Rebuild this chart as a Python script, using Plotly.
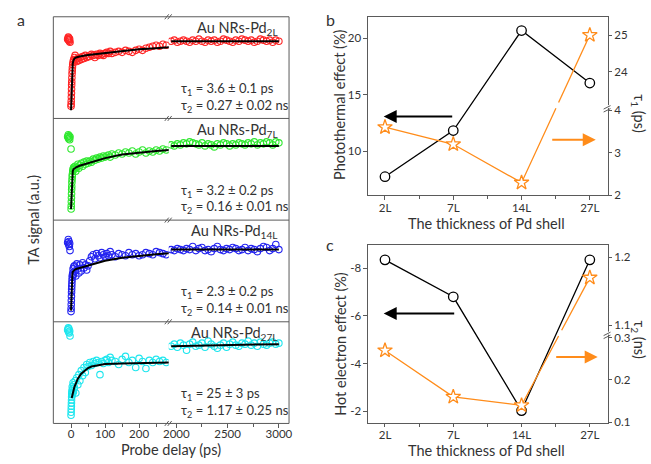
import plotly.graph_objects as go

W, H = 651, 464
def fx(px): return px / W
def fy(py): return 1 - py / H

# ---------------- Panel a data (TA signal, a.u., each row normalised 0..1) ----------------
delay_early = [-10, -8, -7, -6, -5, -4, -3,
               0, 0.3, 0.6, 0.9, 1.2, 1.5, 1.8, 2.1, 2.5, 3, 3.5, 4, 5, 6, 7, 8,
               10, 12, 14, 17, 20, 23, 26, 30, 34, 38, 42, 46, 50,
               55, 60, 65, 70, 75, 80, 85, 90, 95, 100,
               105, 110, 115, 120,
               130, 140, 150, 160, 170, 180, 190, 200, 210, 220, 230, 240, 250, 260, 270, 280]
delay_late = [1950, 1980, 2010, 2040, 2070, 2100, 2130, 2160, 2190, 2220, 2250, 2280,
              2310, 2340, 2370, 2400, 2430, 2460, 2490, 2520, 2550, 2580, 2610, 2640,
              2670, 2700, 2730, 2760, 2790, 2820, 2850, 2880, 2910, 2940, 2970, 3000]

sig_2L_early = [0.78, 0.80, 0.77, 0.79, 0.76, 0.78, 0.75,
                0.12, 0.14, 0.17, 0.21, 0.25, 0.29, 0.33, 0.36, 0.40, 0.44, 0.47, 0.50, 0.53, 0.55, 0.57, 0.58,
                0.60, 0.62, 0.58, 0.56, 0.59, 0.57, 0.60, 0.58, 0.61, 0.59, 0.62, 0.60, 0.61,
                0.61, 0.63, 0.62, 0.60, 0.63, 0.62, 0.64, 0.63, 0.62, 0.64,
                0.65, 0.64, 0.66, 0.64,
                0.65, 0.66, 0.65, 0.67, 0.66, 0.65, 0.67, 0.68, 0.67, 0.69, 0.70, 0.71, 0.72, 0.71, 0.73, 0.72]
sig_2L_late = [0.76, 0.77, 0.75, 0.76, 0.77, 0.76, 0.75, 0.77, 0.76, 0.78, 0.76, 0.75,
               0.77, 0.76, 0.77, 0.75, 0.76, 0.78, 0.77, 0.76, 0.75, 0.77, 0.76, 0.78,
               0.77, 0.76, 0.77, 0.75, 0.76, 0.78, 0.77, 0.76, 0.77, 0.75, 0.77, 0.76]

sig_7L_early = [0.82, 0.84, 0.80, 0.83, 0.81, 0.79, 0.82,
                0.70, 0.11, 0.14, 0.18, 0.22, 0.26, 0.30, 0.33, 0.37, 0.40, 0.43, 0.45, 0.48, 0.50, 0.51, 0.52,
                0.50, 0.53, 0.48, 0.52, 0.55, 0.51, 0.54, 0.56, 0.53, 0.57, 0.55, 0.58, 0.56,
                0.58, 0.57, 0.60, 0.59, 0.61, 0.60, 0.62, 0.61, 0.63, 0.62,
                0.63, 0.64, 0.62, 0.65,
                0.64, 0.66, 0.65, 0.67, 0.66, 0.68, 0.65, 0.67, 0.69, 0.66, 0.68, 0.67, 0.69, 0.68, 0.70, 0.69]
sig_7L_late = [0.74, 0.73, 0.75, 0.74, 0.76, 0.75, 0.77, 0.76, 0.75, 0.74, 0.76, 0.73,
               0.75, 0.74, 0.72, 0.75, 0.74, 0.76, 0.75, 0.73, 0.75, 0.74, 0.76, 0.75,
               0.74, 0.76, 0.75, 0.77, 0.74, 0.76, 0.75, 0.77, 0.76, 0.74, 0.77, 0.76]

sig_14L_early = [0.78, 0.81, 0.76, 0.79, 0.74, 0.77, 0.70,
                 0.10, 0.13, 0.17, 0.21, 0.25, 0.29, 0.32, 0.35, 0.38, 0.41, 0.44, 0.46, 0.48, 0.52, 0.46, 0.54,
                 0.55, 0.50, 0.45, 0.57, 0.52, 0.48, 0.56, 0.50, 0.58, 0.53, 0.56, 0.51, 0.55,
                 0.60, 0.64, 0.66, 0.62, 0.67, 0.65, 0.63, 0.68, 0.66, 0.64,
                 0.67, 0.65, 0.69, 0.66,
                 0.64, 0.67, 0.66, 0.65, 0.68, 0.66, 0.67, 0.65, 0.66, 0.68, 0.67, 0.66, 0.69, 0.68, 0.67, 0.66]
sig_14L_late = [0.71, 0.70, 0.72, 0.71, 0.70, 0.72, 0.71, 0.74, 0.70, 0.72, 0.73, 0.70,
                0.71, 0.69, 0.72, 0.74, 0.71, 0.70, 0.72, 0.71, 0.73, 0.72, 0.70, 0.71,
                0.73, 0.70, 0.72, 0.71, 0.69, 0.72, 0.74, 0.73, 0.70, 0.72, 0.76, 0.71]

sig_27L_early = [0.92, 0.94, 0.90, 0.93, 0.89, 0.91, 0.86,
                 0.08, 0.11, 0.14, 0.17, 0.20, 0.23, 0.26, 0.29, 0.32, 0.30, 0.36, 0.28, 0.34, 0.40, 0.31, 0.38,
                 0.35, 0.42, 0.30, 0.45, 0.38, 0.48, 0.42, 0.52, 0.47, 0.55, 0.50, 0.58, 0.56,
                 0.60, 0.57, 0.61, 0.59, 0.62, 0.60, 0.48, 0.61, 0.59, 0.62,
                 0.63, 0.60, 0.65, 0.62,
                 0.61, 0.58, 0.63, 0.66, 0.60, 0.62, 0.55, 0.64, 0.61, 0.54, 0.62, 0.60, 0.63, 0.61, 0.62, 0.60]
sig_27L_late = [0.76, 0.78, 0.75, 0.79, 0.77, 0.72, 0.78, 0.80, 0.76, 0.77, 0.79, 0.75,
                0.81, 0.78, 0.76, 0.74, 0.77, 0.79, 0.75, 0.78, 0.80, 0.77, 0.76, 0.79,
                0.78, 0.81, 0.77, 0.79, 0.76, 0.80, 0.78, 0.77, 0.79, 0.80, 0.78, 0.79]

# fitted curves
fit_t_fast = [0, 0.5, 1, 1.5, 2, 3, 4, 5, 7, 10, 15, 25, 50, 100, 150, 200, 250, 288]
fit_2L = [0.08, 0.15, 0.23, 0.30, 0.36, 0.44, 0.50, 0.54, 0.57, 0.59, 0.60, 0.61, 0.625, 0.645, 0.665, 0.68, 0.69, 0.70]
fit_7L = [0.11, 0.17, 0.24, 0.30, 0.35, 0.42, 0.46, 0.48, 0.50, 0.51, 0.52, 0.535, 0.56, 0.61, 0.645, 0.665, 0.68, 0.69]
fit_14L = [0.11, 0.18, 0.26, 0.33, 0.38, 0.44, 0.47, 0.49, 0.50, 0.51, 0.52, 0.53, 0.555, 0.60, 0.63, 0.65, 0.665, 0.675]
fit_t_slow = [2, 5, 10, 15, 20, 30, 40, 50, 60, 80, 100, 150, 200, 288]
fit_27L = [0.25, 0.30, 0.36, 0.40, 0.44, 0.49, 0.52, 0.545, 0.56, 0.575, 0.585, 0.59, 0.595, 0.60]
fit_late_t = [1950, 3000]
fit_late = {"2L": [0.76, 0.76], "7L": [0.73, 0.73], "14L": [0.71, 0.71], "27L": [0.76, 0.78]}

samples = ["2L", "7L", "14L", "27L"]
colors_a = {"2L": "#ff2424", "7L": "#2ee82e", "14L": "#2424f0", "27L": "#1ee6ee"}
tau1_text = {"2L": "3.6 ± 0.1 ps", "7L": "3.2 ± 0.2 ps", "14L": "2.3 ± 0.2 ps", "27L": "25 ± 3 ps"}
tau2_text = {"2L": "0.27 ± 0.02 ns", "7L": "0.16 ± 0.01 ns", "14L": "0.14 ± 0.01 ns", "27L": "1.17 ± 0.25 ns"}
early = {"2L": sig_2L_early, "7L": sig_7L_early, "14L": sig_14L_early, "27L": sig_27L_early}
late = {"2L": sig_2L_late, "7L": sig_7L_late, "14L": sig_14L_late, "27L": sig_27L_late}
fits = {"2L": (fit_t_fast, fit_2L), "7L": (fit_t_fast, fit_7L), "14L": (fit_t_fast, fit_14L), "27L": (fit_t_slow, fit_27L)}

# ---------------- Panels b, c data ----------------
shell = ["2L", "7L", "14L", "27L"]
photothermal = [7.75, 11.84, 20.7, 16.05]
tau1_ps = [3.6, 3.2, 2.3, 25]
hot_electron = [-8.35, -6.8, -2.03, -8.35]
tau2_ns = [0.27, 0.16, 0.14, 1.17]

# broken right axes: (lower range, upper range, fraction of height at break)
B_LO, B_HI, B_F = (2.0, 4.06), (23.02, 25.5), 0.4917
C_LO, C_HI, C_F = (0.0986, 0.311), (1.088, 1.2185), 0.5036

def brk(v, lo, hi, f):
    if v <= lo[1]:
        return (v - lo[0]) / (lo[1] - lo[0]) * f
    return f + (v - hi[0]) / (hi[1] - hi[0]) * (1 - f)

def gapped(xs, ds, f, g):
    ox, oy = [xs[0]], [ds[0]]
    for i in range(1, len(xs)):
        x0, d0, x1, d1 = xs[i - 1], ds[i - 1], xs[i], ds[i]
        if (d0 - f) * (d1 - f) < 0:
            a, b = (f - g, f + g) if d1 > d0 else (f + g, f - g)
            t1 = (a - d0) / (d1 - d0)
            t2 = (b - d0) / (d1 - d0)
            ox += [x0 + t1 * (x1 - x0), None, x0 + t2 * (x1 - x0)]
            oy += [a, None, b]
        ox.append(x1)
        oy.append(d1)
    return ox, oy

ORANGE = "#ff8c1a"
TXT = "#333333"
FRAME = "#5a5a5a"
FONT = "Lato"

fig = go.Figure()

# ---- panel a traces ----
for i, s in enumerate(samples):
    yax = "y" if i == 0 else f"y{i + 1}"
    c = colors_a[s]
    fig.add_trace(go.Scatter(x=delay_early, y=early[s], xaxis="x", yaxis=yax, mode="markers",
                             marker=dict(symbol="circle-open", size=6.5, color=c, line=dict(width=1.1))))
    fig.add_trace(go.Scatter(x=delay_late, y=late[s], xaxis="x2", yaxis=yax, mode="markers",
                             marker=dict(symbol="circle-open", size=6.5, color=c, line=dict(width=1.1))))
    ft, fv = fits[s]
    fig.add_trace(go.Scatter(x=ft, y=fv, xaxis="x", yaxis=yax, mode="lines",
                             line=dict(color="black", width=2)))
    fig.add_trace(go.Scatter(x=fit_late_t, y=fit_late[s], xaxis="x2", yaxis=yax, mode="lines",
                             line=dict(color="black", width=2)))

# ---- panel b traces ----
xb = [0, 1, 2, 3]
fig.add_trace(go.Scatter(x=xb, y=photothermal, xaxis="x3", yaxis="y5", mode="lines+markers",
                         line=dict(color="black", width=1.3),
                         marker=dict(symbol="circle", size=9.5, color="white", line=dict(color="black", width=1.3))))
db = [brk(v, B_LO, B_HI, B_F) for v in tau1_ps]
gx, gy = gapped(xb, db, B_F + 0.012, 0.016)
fig.add_trace(go.Scatter(x=gx, y=gy, xaxis="x3", yaxis="y6", mode="lines",
                         line=dict(color=ORANGE, width=1.3)))
fig.add_trace(go.Scatter(x=xb, y=db, xaxis="x3", yaxis="y6", mode="markers",
                         marker=dict(symbol="star", size=11, color="white", line=dict(color=ORANGE, width=1.3))))

# ---- panel c traces ----
fig.add_trace(go.Scatter(x=xb, y=hot_electron, xaxis="x4", yaxis="y7", mode="lines+markers",
                         line=dict(color="black", width=1.3),
                         marker=dict(symbol="circle", size=9.5, color="white", line=dict(color="black", width=1.3))))
dc = [brk(v, C_LO, C_HI, C_F) for v in tau2_ns]
gx, gy = gapped(xb, dc, C_F, 0.016)
fig.add_trace(go.Scatter(x=gx, y=gy, xaxis="x4", yaxis="y8", mode="lines",
                         line=dict(color=ORANGE, width=1.3)))
fig.add_trace(go.Scatter(x=xb, y=dc, xaxis="x4", yaxis="y8", mode="markers",
                         marker=dict(symbol="star", size=11, color="white", line=dict(color=ORANGE, width=1.3))))

# ---------------- axes ----------------
tickfont = dict(family=FONT, size=11.5, color=TXT)
common = dict(showgrid=False, zeroline=False, tickfont=tickfont, tickcolor=FRAME, ticklen=3.5, tickwidth=1)

row_tops = [17, 120, 223, 326]
row_bot = 429
layout_axes = {}
layout_axes["xaxis"] = dict(domain=[fx(48), fx(165)], range=[-52, 287], anchor="y4", tickmode="array",
                            tickvals=[0, 100, 200], ticks="outside", showline=False, ticklabelstandoff=-4,
                            minor=dict(tickvals=[50, 150, 250], ticks="outside", ticklen=2.5, tickcolor=FRAME), **common)
layout_axes["xaxis2"] = dict(domain=[fx(165), fx(287)], range=[1926, 3099], anchor="y4", tickmode="array",
                             tickvals=[2000, 2500, 3000], ticks="outside", showline=False, ticklabelstandoff=-4,
                             minor=dict(tickvals=[2250, 2750], ticks="outside", ticklen=2.5, tickcolor=FRAME), **common)
for i in range(4):
    top = row_tops[i]
    bot = row_tops[i + 1] if i < 3 else row_bot
    key = "yaxis" if i == 0 else f"yaxis{i + 1}"
    layout_axes[key] = dict(domain=[fy(bot), fy(top)], range=[0, 1], anchor="x", visible=False, fixedrange=True)

box_common = dict(showline=True, linecolor=FRAME, linewidth=1, mirror=True, ticks="outside")
layout_axes["xaxis3"] = dict(domain=[fx(367), fx(610)], range=[-0.25, 3.26], anchor="y5", tickmode="array",
                             tickvals=xb, ticktext=shell, ticklabelstandoff=-2,
                             minor=dict(tickvals=[0.5, 1.5, 2.5], ticks="outside", ticklen=3, tickcolor=FRAME),
                             **box_common, **common)
layout_axes["yaxis5"] = dict(domain=[fy(198), fy(17)], range=[6.09, 21.92], anchor="x3", tickmode="array",
                             tickvals=[10, 15, 20], **box_common, **common)
b_ticks = [2, 3, 4, 24, 25]
layout_axes["yaxis6"] = dict(domain=[fy(198), fy(17)], range=[0, 1], anchor="x3", overlaying="y5", side="right",
                             tickmode="array", tickvals=[brk(v, B_LO, B_HI, B_F) for v in b_ticks],
                             ticktext=[str(v) for v in b_ticks], showline=True, linecolor=FRAME, ticks="outside", **common)

layout_axes["xaxis4"] = dict(domain=[fx(367), fx(610)], range=[-0.25, 3.26], anchor="y7", tickmode="array",
                             tickvals=xb, ticktext=shell, ticklabelstandoff=-2,
                             minor=dict(tickvals=[0.5, 1.5, 2.5], ticks="outside", ticklen=3, tickcolor=FRAME),
                             **box_common, **common)
c_left = [-8, -6, -4, -2]
layout_axes["yaxis7"] = dict(domain=[fy(428.3), fy(248)], range=[-1.52, -8.98], anchor="x4", tickmode="array",
                             tickvals=c_left, ticktext=[f"-{abs(v)}" for v in c_left], **box_common, **common)
c_ticks = [0.1, 0.2, 0.3, 1.1, 1.2]
layout_axes["yaxis8"] = dict(domain=[fy(428.3), fy(248)], range=[0, 1], anchor="x4", overlaying="y7", side="right",
                             tickmode="array", tickvals=[brk(v, C_LO, C_HI, C_F) for v in c_ticks],
                             ticktext=[str(v) for v in c_ticks], showline=True, linecolor=FRAME, ticks="outside", **common)

# ---------------- shapes (frames and axis breaks) ----------------
shapes = []
def pline(x0, y0, x1, y1, color=FRAME, width=1):
    shapes.append(dict(type="line", xref="paper", yref="paper", x0=fx(x0), y0=fy(y0), x1=fx(x1), y1=fy(y1),
                       line=dict(color=color, width=width), layer="above"))

shapes.append(dict(type="rect", xref="paper", yref="paper", x0=fx(48), y0=fy(429), x1=fx(287), y1=fy(17),
                   line=dict(color=FRAME, width=1)))
for yy in row_tops[1:]:
    pline(48, yy, 287, yy)
for yy in row_tops + [row_bot]:
    pline(161, yy + 2.5, 165, yy - 2.5)
    pline(164, yy + 2.5, 168, yy - 2.5)
# right-axis breaks in b and c
for yy in (108, 337.5):
    shapes.append(dict(type="rect", xref="paper", yref="paper", x0=fx(607), y0=fy(yy + 1.5), x1=fx(613), y1=fy(yy - 1.5),
                       line=dict(width=0), fillcolor="white", layer="above"))
    pline(606, yy + 2.5, 613, yy - 1)
    pline(606, yy + 5.5, 613, yy + 2)

# ---------------- annotations ----------------
ann = []
def text(px, py, s, size=13, angle=0, xanchor="center", yanchor="middle"):
    ann.append(dict(xref="paper", yref="paper", x=fx(px), y=fy(py), text=s, showarrow=False, textangle=angle,
                    xanchor=xanchor, yanchor=yanchor, font=dict(family=FONT, size=size, color=TXT)))

for i, s in enumerate(samples):
    top = row_tops[i]
    text(278, top + 12, f"Au NRs-Pd<sub>{s}</sub>", size=14.5, xanchor="right")
    text(175, top + 73, f"τ<sub>1</sub> = {tau1_text[s]}", size=13, xanchor="left")
    text(175, top + 90, f"τ<sub>2</sub> = {tau2_text[s]}", size=13, xanchor="left")

text(15, 20, "a", size=16)
text(329, 20, "b", size=16)
text(329, 248, "c", size=16)
text(28, 223, "TA signal (a.u.)", size=14.5, angle=-90)
text(167, 455, "Probe delay (ps)", size=14.5)
text(487, 226, "The thickness of Pd shell", size=14.5)
text(487, 456, "The thickness of Pd shell", size=14.5)
text(338, 106, "Photothermal effect (%)", size=14.5, angle=-90)
text(339, 348, "Hot electron effect (%)", size=14.5, angle=-90)
text(641, 115, "τ<sub>1</sub> (ps)", size=14.5, angle=90)
text(641, 344, "τ<sub>2</sub> (ns)", size=14.5, angle=90)

def arrow(hx, hy, tx, color):
    ann.append(dict(xref="paper", yref="paper", x=fx(hx), y=fy(hy), ax=tx - hx, ay=0, axref="pixel", ayref="pixel",
                    text="", showarrow=True, arrowhead=2, arrowsize=1.3, arrowwidth=2, arrowcolor=color))

arrow(383, 118, 453, "black")
arrow(598, 141.7, 553, ORANGE)
arrow(383, 317.7, 455, "black")
arrow(600, 361.7, 557, ORANGE)

fig.update_layout(width=W, height=H, autosize=False, margin=dict(l=0, r=0, t=0, b=0),
                  paper_bgcolor="white", plot_bgcolor="rgba(0,0,0,0)", showlegend=False,
                  font=dict(family=FONT, color=TXT), shapes=shapes, annotations=ann, **layout_axes)

fig.write_html("out.html", config={"displayModeBar": False},
               post_script="document.body.style.margin='0';")
